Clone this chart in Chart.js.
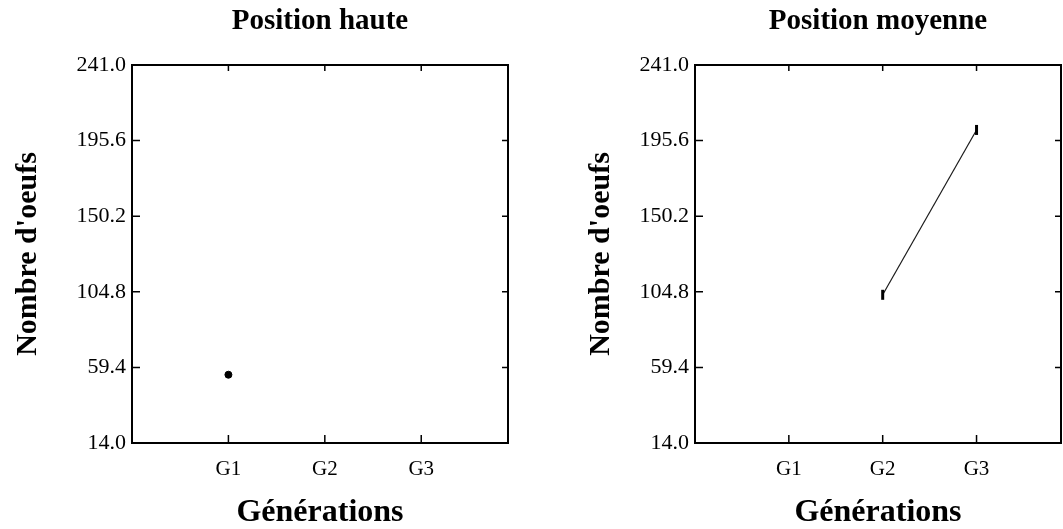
<!DOCTYPE html>
<html>
<head>
<meta charset="utf-8">
<script src="https://cdn.jsdelivr.net/npm/chart.js@4/dist/chart.umd.min.js"></script>
<style>
  html, body { margin: 0; padding: 0; background: #fff; overflow: hidden; }
  #wrap { position: relative; width: 1063px; height: 529px; }
  .box { position: absolute; top: 0; height: 529px; }
  #left { left: 0; width: 520px; }
  #right { left: 560px; width: 503px; }
</style>
</head>
<body>
<div id="wrap">
  <div class="box" id="left"><canvas id="hauteChart"></canvas></div>
  <div class="box" id="right"><canvas id="moyenneChart"></canvas></div>
</div>
<script>
// données
const categories = ["G1", "G2", "G3"];
const hauteValues = [55, null, null];
const moyenneValues = [null, 103, 202];
const yTicks = [14.0, 59.4, 104.8, 150.2, 195.6, 241.0];
const xTicks = [1, 2, 3];

const serif = "'Liberation Serif', 'DejaVu Serif', serif";

// cadre + graduations vers l'intérieur + titre centré sur la zone de tracé
const framePlugin = {
  id: "frame",
  afterDraw(chart, args, opts) {
    const { ctx, chartArea: a, scales } = chart;
    ctx.save();
    ctx.strokeStyle = "#000";
    ctx.lineWidth = 2;
    ctx.strokeRect(a.left, a.top, a.right - a.left, a.bottom - a.top);
    ctx.lineWidth = 1.5;
    ctx.beginPath();
    scales.y.ticks.forEach((t) => {
      const py = scales.y.getPixelForValue(t.value);
      ctx.moveTo(a.left, py);
      ctx.lineTo(a.left + 8, py);
      ctx.moveTo(a.right, py);
      ctx.lineTo(a.right - 6, py);
    });
    scales.x.ticks.forEach((t) => {
      const px = scales.x.getPixelForValue(t.value);
      ctx.moveTo(px, a.bottom);
      ctx.lineTo(px, a.bottom - 8);
      ctx.moveTo(px, a.top);
      ctx.lineTo(px, a.top + 6);
    });
    ctx.stroke();

    ctx.fillStyle = "#000";
    ctx.font = "bold 29px " + serif;
    ctx.textAlign = "center";
    ctx.textBaseline = "middle";
    ctx.fillText(opts.text, (a.left + a.right) / 2, 22);
    ctx.restore();
  },
};

function makeChart(canvasId, titre, values, opts) {
  const points = categories.map((c, i) => ({ x: i + 1, y: values[i] }));
  return new Chart(document.getElementById(canvasId), {
    type: "line",
    data: {
      datasets: [
        {
          data: points,
          borderColor: "#1a1a1a",
          backgroundColor: "#000",
          borderWidth: 1.2,
          pointStyle: opts.pointStyle,
          rotation: opts.rotation,
          pointRadius: opts.pointRadius,
          pointBorderWidth: opts.pointBorderWidth,
          pointBorderColor: "#000",
          spanGaps: false,
          tension: 0,
        },
      ],
    },
    plugins: [framePlugin],
    options: {
      responsive: true,
      maintainAspectRatio: false,
      animation: false,
      layout: {
        autoPadding: false,
        padding: { left: 0, right: opts.padRight, top: 65, bottom: 0 },
      },
      plugins: {
        legend: { display: false },
        tooltip: { enabled: false },
        title: { display: false },
        frame: { text: titre },
      },
      scales: {
        x: {
          type: "linear",
          min: 0,
          max: 3.9,
          afterFit: (s) => { s.height = 86; },
          afterBuildTicks: (s) => { s.ticks = xTicks.map((v) => ({ value: v })); },
          grid: { display: false, drawTicks: false },
          border: { display: false },
          ticks: {
            padding: 14,
            color: "#000",
            font: { family: serif, size: 21 },
            callback: (v) => categories[v - 1] || "",
          },
          title: {
            display: true,
            text: "Générations",
            color: "#000",
            font: { family: serif, size: 32, weight: "bold", lineHeight: 1 },
            padding: { top: 0, bottom: 0 },
          },
        },
        y: {
          min: yTicks[0],
          max: yTicks[yTicks.length - 1],
          afterFit: (s) => { s.width = opts.yWidth; },
          afterBuildTicks: (s) => { s.ticks = yTicks.map((v) => ({ value: v })); },
          grid: { display: false, drawTicks: false },
          border: { display: false },
          ticks: {
            padding: 6,
            color: "#000",
            font: { family: serif, size: 22 },
            callback: (v) => Number(v).toFixed(1),
          },
          title: {
            display: true,
            text: "Nombre d'oeufs",
            color: "#000",
            font: { family: serif, size: 30, weight: "bold", lineHeight: 1 },
            padding: { top: opts.yTitlePad, bottom: 0 },
          },
        },
      },
    },
  });
}

makeChart("hauteChart", "Position haute", hauteValues, {
  pointStyle: "circle",
  rotation: 0,
  pointRadius: 3.5,
  pointBorderWidth: 1,
  padRight: 12,
  yWidth: 132,
  yTitlePad: 13,
});

makeChart("moyenneChart", "Position moyenne", moyenneValues, {
  pointStyle: "line",
  rotation: 90,
  pointRadius: 5,
  pointBorderWidth: 3,
  padRight: 2,
  yWidth: 135,
  yTitlePad: 26,
});
</script>
</body>
</html>
